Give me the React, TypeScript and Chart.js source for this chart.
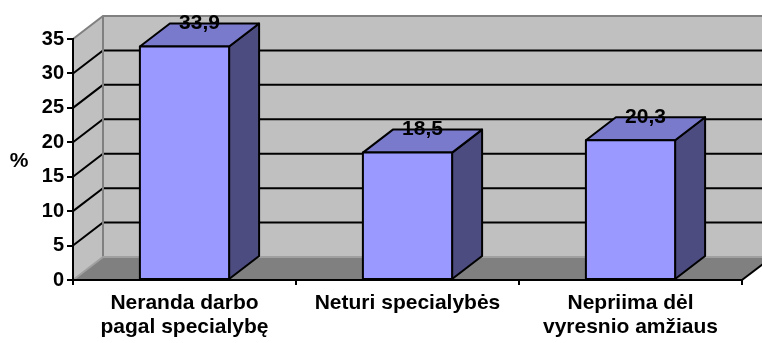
import React, { useEffect, useRef } from "react";
import { Chart, registerables } from "chart.js";

Chart.register(...registerables);

// Categories (multi-line labels), values and the text shown above each column
const categories: (string | string[])[] = [
  ["Neranda darbo", "pagal specialybę"],
  "Neturi specialybės",
  ["Nepriima dėl", "vyresnio amžiaus"],
];
const values = [33.9, 18.5, 20.3];
const valueLabels = ["33,9", "18,5", "20,3"];
const yMin = 0;
const yMax = 35;
const yStep = 5;
const yTitle = "%";

// 3D projection offset of the back plane
const DX = 30;
const DY = -23;

const FONT = "'Liberation Sans', Arial, sans-serif";
const FRONT = "#9999FF";
const TOP = "#7A7ACC";
const SIDE = "#4C4C80";
const WALL = "#C0C0C0";
const FLOOR = "#808080";
const WALL_EDGE = "#808080";

const box3d = {
  id: "box3d",
  beforeDraw(chart: any) {
    const { ctx, chartArea } = chart;
    const { left, right, top, bottom } = chartArea;
    const yScale = chart.scales.y;
    ctx.save();
    // side wall
    ctx.fillStyle = WALL;
    ctx.beginPath();
    ctx.moveTo(left, top);
    ctx.lineTo(left + DX, top + DY);
    ctx.lineTo(left + DX, bottom + DY);
    ctx.lineTo(left, bottom);
    ctx.closePath();
    ctx.fill();
    // back wall
    ctx.fillRect(left + DX, top + DY, right - left, bottom - top);
    // floor
    ctx.fillStyle = FLOOR;
    ctx.beginPath();
    ctx.moveTo(left, bottom);
    ctx.lineTo(right, bottom);
    ctx.lineTo(right + DX, bottom + DY);
    ctx.lineTo(left + DX, bottom + DY);
    ctx.closePath();
    ctx.fill();

    // grid lines on back wall and side wall
    ctx.strokeStyle = "#000";
    ctx.lineWidth = 2;
    for (let v = yMin + yStep; v < yMax; v += yStep) {
      const py = yScale.getPixelForValue(v);
      ctx.beginPath();
      ctx.moveTo(left, py);
      ctx.lineTo(left + DX, py + DY);
      ctx.lineTo(right + DX, py + DY);
      ctx.stroke();
    }

    // wall edges
    ctx.strokeStyle = WALL_EDGE;
    ctx.lineWidth = 2;
    ctx.beginPath();
    ctx.moveTo(left, top);
    ctx.lineTo(left + DX, top + DY);
    ctx.lineTo(right + DX, top + DY);
    ctx.moveTo(left + DX, top + DY);
    ctx.lineTo(left + DX, bottom + DY);
    ctx.stroke();
    ctx.strokeStyle = "#A0A0A0";
    ctx.beginPath();
    ctx.moveTo(left, bottom);
    ctx.lineTo(left + DX, bottom + DY);
    ctx.lineTo(right + DX, bottom + DY);
    ctx.stroke();
    // floor front-right edge
    ctx.strokeStyle = "#000";
    ctx.beginPath();
    ctx.moveTo(right, bottom);
    ctx.lineTo(right + DX, bottom + DY);
    ctx.stroke();

    // axis title
    ctx.fillStyle = "#000";
    ctx.font = `bold 21px ${FONT}`;
    ctx.textAlign = "center";
    ctx.textBaseline = "middle";
    ctx.fillText(yTitle, 19, 161);
    ctx.restore();
  },
  afterDatasetsDraw(chart: any) {
    const { ctx } = chart;
    const meta = chart.getDatasetMeta(0);
    ctx.save();
    ctx.lineWidth = 2;
    ctx.lineJoin = "round";
    ctx.strokeStyle = "#000";
    meta.data.forEach((bar: any, i: number) => {
      const { x, y, base, width } = bar.getProps(["x", "y", "base", "width"], true);
      const l = x - width / 2;
      const r = x + width / 2;
      // side face
      ctx.fillStyle = SIDE;
      ctx.beginPath();
      ctx.moveTo(r, y);
      ctx.lineTo(r + DX, y + DY);
      ctx.lineTo(r + DX, base + DY);
      ctx.lineTo(r, base);
      ctx.closePath();
      ctx.fill();
      ctx.stroke();
      // top face
      ctx.fillStyle = TOP;
      ctx.beginPath();
      ctx.moveTo(l, y);
      ctx.lineTo(l + DX, y + DY);
      ctx.lineTo(r + DX, y + DY);
      ctx.lineTo(r, y);
      ctx.closePath();
      ctx.fill();
      ctx.stroke();
      // front face
      ctx.fillStyle = FRONT;
      ctx.fillRect(l, y, width, base - y);
      ctx.strokeRect(l, y, width, base - y);

      // value label
      ctx.fillStyle = "#000";
      ctx.font = `bold 21px ${FONT}`;
      ctx.textAlign = "center";
      ctx.textBaseline = "middle";
      ctx.fillText(valueLabels[i], x + DX / 2, y + DY);
    });
    ctx.restore();
  },
};

export default function App() {
  const ref = useRef<HTMLCanvasElement>(null);

  useEffect(() => {
    document.body.style.margin = "0";
    const canvas = ref.current;
    if (!canvas) return;
    const chart = new Chart(canvas, {
      type: "bar",
      data: {
        labels: categories,
        datasets: [
          {
            data: values,
            backgroundColor: "rgba(0,0,0,0)",
            borderWidth: 0,
            barPercentage: 0.4,
            categoryPercentage: 1,
          },
        ],
      },
      options: {
        responsive: false,
        animation: false,
        devicePixelRatio: 1,
        layout: { padding: { left: 0, top: 39, right: 20, bottom: 0 } },
        plugins: {
          legend: { display: false },
          tooltip: { enabled: false },
        },
        scales: {
          x: {
            afterFit: (s: any) => {
              s.height = 63;
            },
            grid: {
              offset: true,
              drawOnChartArea: false,
              drawTicks: true,
              tickLength: 5,
              color: "#000",
              lineWidth: 2,
            },
            border: { display: true, color: "#000", width: 2 },
            ticks: {
              color: "#000",
              font: { family: FONT, size: 21, weight: "bold", lineHeight: 1.15 },
              padding: 6,
              maxRotation: 0,
              autoSkip: false,
            },
          },
          y: {
            min: yMin,
            max: yMax,
            afterFit: (s: any) => {
              s.width = 73;
            },
            grid: {
              drawOnChartArea: false,
              drawTicks: true,
              tickLength: 6,
              color: "#000",
              lineWidth: 2,
            },
            border: { display: true, color: "#000", width: 2 },
            ticks: {
              stepSize: yStep,
              color: "#000",
              padding: 3,
              font: { family: FONT, size: 20, weight: "bold" },
            },
          },
        },
      },
      plugins: [box3d],
    });
    return () => chart.destroy();
  }, []);

  return (
    <div style={{ width: 762, height: 343, background: "#fff" }}>
      <canvas ref={ref} width={762} height={343} />
    </div>
  );
}
